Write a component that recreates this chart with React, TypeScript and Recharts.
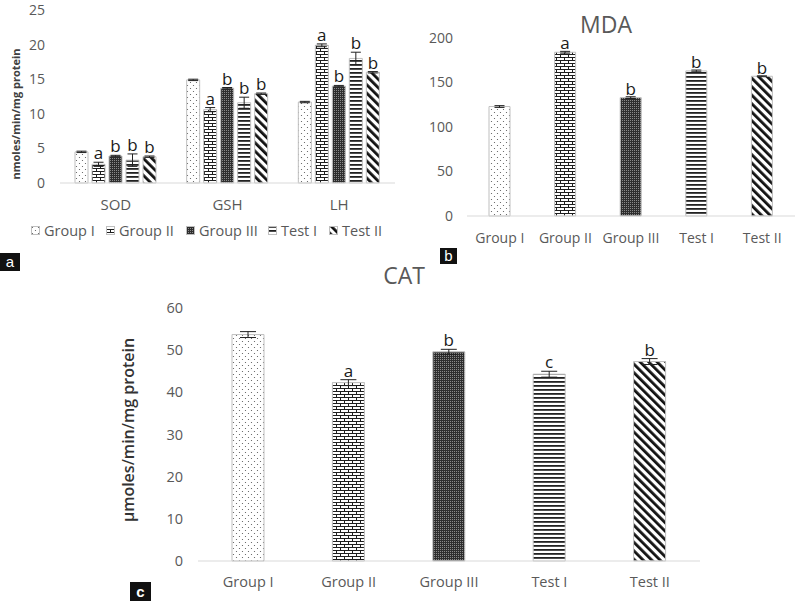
import React from 'react';
import { BarChart, Bar, XAxis, YAxis, ErrorBar, LabelList, Cell } from 'recharts';

const FONT = '"Open Sans", "Liberation Sans", sans-serif';
const TICK = '#595959';

// ---------- Panel a ----------
const markersA = ['SOD', 'GSH', 'LH'];
const seriesNamesA = ['Group I', 'Group II', 'Group III', 'Test I', 'Test II'];
const groupIA = [4.5, 14.9, 11.7];
const groupIIA = [2.7, 10.6, 19.9];
const groupIIIA = [3.9, 13.7, 14.0];
const testIA = [3.3, 11.6, 18.0];
const testIIA = [3.8, 12.9, 16.0];
const groupIErrA = [0.1, 0.1, 0.1];
const groupIIErrA = [0.3, 0.3, 0.2];
const groupIIIErrA = [0.1, 0.1, 0.1];
const testIErrA = [0.9, 0.8, 0.9];
const testIIErrA = [0.1, 0.1, 0.1];
const groupILetA = ['', '', ''];
const groupIILetA = ['a', 'a', 'a'];
const groupIIILetA = ['b', 'b', 'b'];
const testILetA = ['b', 'b', 'b'];
const testIILetA = ['b', 'b', 'b'];
const ticksA = [0, 5, 10, 15, 20, 25];

// ---------- Panel b (MDA) ----------
const groupsB = ['Group I', 'Group II', 'Group III', 'Test I', 'Test II'];
const mdaValues = [123, 184, 133, 163, 157];
const mdaErr = [1, 1, 1, 1, 0.5];
const mdaLetters = ['', 'a', 'b', 'b', 'b'];
const ticksB = [0, 50, 100, 150, 200];

// ---------- Panel c (CAT) ----------
const groupsC = ['Group I', 'Group II', 'Group III', 'Test I', 'Test II'];
const catValues = [53.7, 42.3, 49.6, 44.3, 47.3];
const catErr = [0.7, 0.7, 0.6, 0.7, 0.7];
const catLetters = ['', 'a', 'b', 'c', 'b'];
const ticksC = [0, 10, 20, 30, 40, 50, 60];

const patternIds = ['p-dots', 'p-brick', 'p-check', 'p-hline', 'p-diag'];

const seriesValsA = [groupIA, groupIIA, groupIIIA, testIA, testIIA];
const seriesErrA = [groupIErrA, groupIIErrA, groupIIIErrA, testIErrA, testIIErrA];
const seriesLetA = [groupILetA, groupIILetA, groupIIILetA, testILetA, testIILetA];

const dataA = markersA.map((m, i) => {
  const row: any = { name: m };
  seriesValsA.forEach((vals, s) => {
    row['v' + s] = vals[i];
    row['e' + s] = seriesErrA[s][i];
    row['l' + s] = seriesLetA[s][i];
  });
  return row;
});

const dataB = groupsB.map((g, i) => ({ name: g, value: mdaValues[i], err: mdaErr[i], letter: mdaLetters[i] }));
const dataC = groupsC.map((g, i) => ({ name: g, value: catValues[i], err: catErr[i], letter: catLetters[i] }));

const letterContent = (fontSize: number, gap: number) => (props: any) => {
  const vb = props.viewBox ?? { x: props.x, y: props.y, width: props.width, height: props.height };
  const parts = String(props.value ?? '').split('|');
  const letter = parts[0];
  const err = Number(parts[1]);
  const val = Number(parts[2]);
  if (!letter || !vb || !val) return null;
  const h = Math.abs(vb.height);
  const topY = vb.height >= 0 ? vb.y : vb.y + vb.height;
  const ppu = h / val;
  const top = topY - err * ppu;
  return (
    <text x={vb.x + vb.width / 2} y={top - gap} textAnchor="middle" fontSize={fontSize} fontFamily={FONT} fill="#1a1a1a">
      {letter}
    </text>
  );
};

const Patterns = () => (
  <svg width={0} height={0} style={{ position: 'absolute', left: 0, top: 0 }}>
    <defs>
      <pattern id="p-dots" patternUnits="userSpaceOnUse" width={6} height={6}>
        <rect width={6} height={6} fill="#ffffff" />
        <circle cx={1.5} cy={1.5} r={0.6} fill="#555" />
        <circle cx={4.5} cy={4.5} r={0.6} fill="#555" />
      </pattern>
      <pattern id="p-brick" patternUnits="userSpaceOnUse" width={8} height={6}>
        <rect width={8} height={6} fill="#ffffff" />
        <rect x={0} y={0} width={8} height={1} fill="#1e1e1e" />
        <rect x={0} y={3} width={8} height={1} fill="#1e1e1e" />
        <rect x={0} y={0} width={1} height={3} fill="#1e1e1e" />
        <rect x={4} y={3} width={1} height={3} fill="#1e1e1e" />
      </pattern>
      <pattern id="p-check" patternUnits="userSpaceOnUse" width={2} height={2}>
        <rect width={2} height={2} fill="#2e2e2e" />
        <rect x={0} y={0} width={1} height={1} fill="#8a8a8a" />
      </pattern>
      <pattern id="p-hline" patternUnits="userSpaceOnUse" width={4} height={4}>
        <rect width={4} height={4} fill="#ffffff" />
        <rect x={0} y={0} width={4} height={1.8} fill="#222" />
      </pattern>
      <pattern id="p-diag" patternUnits="userSpaceOnUse" width={6} height={6} patternTransform="rotate(-45)">
        <rect width={6} height={6} fill="#ffffff" />
        <rect x={0} y={0} width={2.8} height={6} fill="#111" />
      </pattern>
    </defs>
  </svg>
);

const legendSwatchLeft = [31, 106, 186, 268, 329];

export default function App() {
  return (
    <div style={{ position: 'absolute', left: 0, top: 0, width: 798, height: 601, background: '#fff', overflow: 'hidden', fontFamily: FONT }}>
      <Patterns />

      {/* Panel a */}
      <div style={{ position: 'absolute', left: 0, top: 0 }}>
        <BarChart width={400} height={216} data={dataA} margin={{ top: 10, right: 5, left: 0, bottom: 0 }} barGap={4}>
          <XAxis dataKey="name" height={33} axisLine={{ stroke: '#d9d9d9' }} tickLine={false} tickSize={0} tickMargin={16}
            tick={{ fill: TICK, fontSize: 15, fontFamily: FONT }} />
          <YAxis width={60} domain={[0, 25]} ticks={ticksA} axisLine={false} tickLine={false} tickSize={0} tickMargin={15}
            tick={{ fill: TICK, fontSize: 14, fontFamily: FONT }}
            label={(p: any) => (
              <text x={17} y={114} transform="rotate(-90, 17, 114)" textAnchor="middle" dominantBaseline="middle"
                fontSize={11} fontWeight={700} fontFamily={FONT} fill="#404040">nmoles/min/mg protein</text>
            )} />
          {seriesNamesA.map((n, s) => (
            <Bar key={n} name={n} dataKey={'v' + s} fill={`url(#${patternIds[s]})`} stroke="#bfbfbf" strokeWidth={1}
              barSize={13} isAnimationActive={false}>
              <ErrorBar dataKey={'e' + s} width={5} stroke="#222" strokeWidth={1} />
              <LabelList dataKey={(r: any) => `${r['l' + s]}|${r['e' + s]}|${r['v' + s]}`} content={letterContent(17, 3)} />
            </Bar>
          ))}
        </BarChart>
      </div>
      {/* Legend a */}
      {seriesNamesA.map((n, s) => (
        <div key={n} style={{ position: 'absolute', left: legendSwatchLeft[s], top: 221, height: 18, display: 'flex', alignItems: 'center', fontSize: 14.5, color: TICK, whiteSpace: 'nowrap' }}>
          <svg width={9} height={9} style={{ marginRight: 4 }}>
            <rect x={0.5} y={0.5} width={8} height={8} fill={`url(#${patternIds[s]})`} stroke="#bfbfbf" strokeWidth={1} />
          </svg>
          <span>{n}</span>
        </div>
      ))}

      {/* Panel b */}
      <div style={{ position: 'absolute', left: 400, top: 0 }}>
        <BarChart width={398} height={250} data={dataB} margin={{ top: 38, right: 3, left: 0, bottom: 0 }}>
          <XAxis dataKey="name" height={34} axisLine={{ stroke: '#d9d9d9' }} tickLine={false} tickSize={0} tickMargin={17}
            interval={0} tick={{ fill: TICK, fontSize: 14, fontFamily: FONT }} />
          <YAxis width={67} domain={[0, 200]} ticks={ticksB} axisLine={false} tickLine={false} tickSize={0} tickMargin={14}
            tick={{ fill: TICK, fontSize: 14, fontFamily: FONT }} />
          <Bar dataKey="value" stroke="#bfbfbf" strokeWidth={1} barSize={21} isAnimationActive={false}>
            {dataB.map((d, i) => <Cell key={d.name} fill={`url(#${patternIds[i]})`} />)}
            <ErrorBar dataKey="err" width={5} stroke="#222" strokeWidth={1} />
            <LabelList dataKey={(r: any) => `${r.letter}|${r.err}|${r.value}`} content={letterContent(17, 2)} />
          </Bar>
        </BarChart>
      </div>

      {/* Panel c */}
      <div style={{ position: 'absolute', left: 100, top: 265 }}>
        <BarChart width={610} height={336} data={dataC} margin={{ top: 43, right: 10, left: 0, bottom: 0 }}>
          <XAxis dataKey="name" height={40} axisLine={{ stroke: '#d9d9d9' }} tickLine={false} tickSize={0} tickMargin={16}
            interval={0} tick={{ fill: TICK, fontSize: 14.5, fontFamily: FONT }} />
          <YAxis width={98} domain={[0, 60]} ticks={ticksC} axisLine={false} tickLine={false} tickSize={0} tickMargin={15}
            tick={{ fill: TICK, fontSize: 14.5, fontFamily: FONT }}
            label={(p: any) => (
              <text x={30} y={165} transform="rotate(-90, 30, 165)" textAnchor="middle" dominantBaseline="middle"
                fontSize={16} fontWeight={600} fontFamily={FONT} fill="#333">µmoles/min/mg protein</text>
            )} />
          <Bar dataKey="value" stroke="#bfbfbf" strokeWidth={1} barSize={32} isAnimationActive={false}>
            {dataC.map((d, i) => <Cell key={d.name} fill={`url(#${patternIds[i]})`} />)}
            <ErrorBar dataKey="err" width={8} stroke="#222" strokeWidth={1} />
            <LabelList dataKey={(r: any) => `${r.letter}|${r.err}|${r.value}`} content={letterContent(17, 3)} />
          </Bar>
        </BarChart>
      </div>

      {/* Titles and panel tags */}
      <svg width={798} height={601} style={{ position: 'absolute', left: 0, top: 0, pointerEvents: 'none' }}>
        <text x={606} y={33} textAnchor="middle" fontSize={23} fontFamily={FONT} fill={TICK}>MDA</text>
        <text x={404} y={284} textAnchor="middle" fontSize={23} fontFamily={FONT} fill={TICK}>CAT</text>
        <rect x={0} y={253} width={20} height={18} fill="#111" />
        <text x={10} y={267} textAnchor="middle" fontSize={15} fontFamily='"Liberation Sans", sans-serif' fill="#fff">a</text>
        <rect x={440} y={248} width={17} height={16} fill="#111" />
        <text x={448.5} y={261} textAnchor="middle" fontSize={15} fontFamily='"Liberation Sans", sans-serif' fill="#fff">b</text>
        <rect x={130} y={582} width={21} height={19} fill="#111" />
        <text x={140.5} y={597} textAnchor="middle" fontSize={15} fontWeight={700} fontFamily='"Liberation Sans", sans-serif' fill="#fff">c</text>
      </svg>
    </div>
  );
}
